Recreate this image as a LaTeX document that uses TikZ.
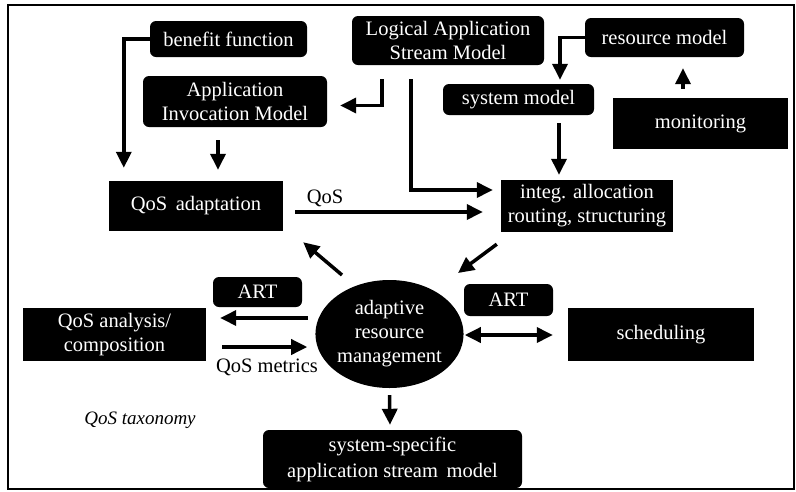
\documentclass[tikz,border=0pt]{standalone}
\usepackage{fontspec}
\setmainfont{Liberation Serif}
\usetikzlibrary{shapes.geometric,arrows.meta}
\begin{document}
\begin{tikzpicture}[x=1pt,y=-1pt,
  txt/.style={font=\fontsize{20.5}{24}\selectfont},
  box/.style={txt,fill=black,text=white,inner sep=0pt,align=center},
  rbox/.style={box,rounded corners=6pt},
  arr/.style={line width=3.5pt,-{Triangle[length=16pt,width=15pt]}},
  darr/.style={line width=3.5pt,{Triangle[length=16pt,width=15pt]}-{Triangle[length=16pt,width=15pt]}},
  lbl/.style={txt,inner sep=0pt}]
\useasboundingbox (0,0) rectangle (796,491);
% boxes
\node[rbox,minimum width=157pt,minimum height=36pt] (bf) at (228.5,39) {benefit function};
\node[rbox,minimum width=192pt,minimum height=49pt] (lg) at (448,40.5) {Logical Application\\Stream Model};
\node[rbox,minimum width=184pt,minimum height=51pt] (ai) at (235,101.5) {Application\\Invocation Model};
\node[rbox,minimum width=159pt,minimum height=39pt] (rm) at (664.5,37.5) {resource model};
\node[rbox,minimum width=151pt,minimum height=31pt] (sm) at (518.5,99.5) {system model};
\node[box,minimum width=175pt,minimum height=51pt] (mon) at (700.5,123.5) {monitoring};
\node[box,minimum width=174pt,minimum height=50pt] (qa) at (196,206) {QoS\, adaptation};
\node[box,minimum width=172pt,minimum height=52pt] (ig) at (587,206) {integ. allocation\\routing, structuring};
\node[box,ellipse,minimum width=145pt,minimum height=108pt] (am) at (389.5,334) {adaptive\\resource\\management};
\node[rbox,minimum width=89pt,minimum height=30pt] (artl) at (257.5,292) {ART};
\node[rbox,minimum width=89pt,minimum height=32pt] (artr) at (508.5,300) {ART};
\node[box,minimum width=183pt,minimum height=53pt] (qan) at (114.5,334.5) {QoS analysis/\\composition};
\node[box,minimum width=186pt,minimum height=53pt] (sch) at (661,334.5) {scheduling};
\node[rbox,minimum width=259pt,minimum height=58pt,font=\fontsize{20.5}{26}\selectfont] (ss) at (392.5,459) {system-specific\\application stream\, model};
% labels
\node[lbl] (lq) at (325,198) {QoS};
\node[lbl] (lqm) at (267,367) {QoS metrics};
\node[lbl,font=\itshape\fontsize{19}{22}\selectfont] (tax) at (140,420) {QoS taxonomy};
% connectors
\draw[arr] (bf.west) -| ([xshift=15pt,yshift=13pt]qa.north west);
\draw[arr] ([xshift=-66pt,yshift=-14pt]lg.south) |- ([xshift=13pt,yshift=-4pt]ai.east);
\draw[arr] ([xshift=-17pt,yshift=-13pt]ai.south) -- ([xshift=22pt,yshift=11pt]qa.north);
\draw[arr] ([xshift=-37pt,yshift=-14pt]lg.south) |- ([xshift=-8pt,yshift=16pt]ig.west);
\draw[arr] ([xshift=12pt,yshift=-6pt]qa.east) -- ([xshift=-18pt,yshift=-6pt]ig.west);
\draw[arr] (rm.west) -| ([xshift=41.5pt,yshift=4pt]sm.north);
\draw[arr] ([xshift=-17.5pt,yshift=9pt]mon.north) -- ([xshift=18.5pt,yshift=-11pt]rm.south);
\draw[arr] ([xshift=40.5pt,yshift=-8pt]sm.south) -- ([xshift=-28pt,yshift=5pt]ig.north);
\draw[arr] ([xshift=-4pt,yshift=-12pt]ig.south west) -- ([xshift=68.5pt,yshift=61pt]am.center);
\draw[arr] ([xshift=-47.5pt,yshift=59pt]am.center) -- ([xshift=20pt,yshift=-11pt]qa.south east);
\draw[arr] ([xshift=-7pt,yshift=16pt]am.west) -- ([xshift=14pt,yshift=16.5pt]qan.east);
\draw[arr] ([xshift=16pt,yshift=-12.5pt]qan.east) -- ([xshift=-8pt,yshift=-13pt]am.west);
\draw[darr] ([xshift=1pt,yshift=-1pt]am.east) -- ([xshift=-15pt,yshift=-0.5pt]sch.west);
\draw[arr] ([yshift=-7pt]am.south) -- ([xshift=-2.5pt,yshift=5pt]ss.north);
% frame
\draw[line width=1.5pt] (8,5) rectangle (794,489);
\end{tikzpicture}
\end{document}
